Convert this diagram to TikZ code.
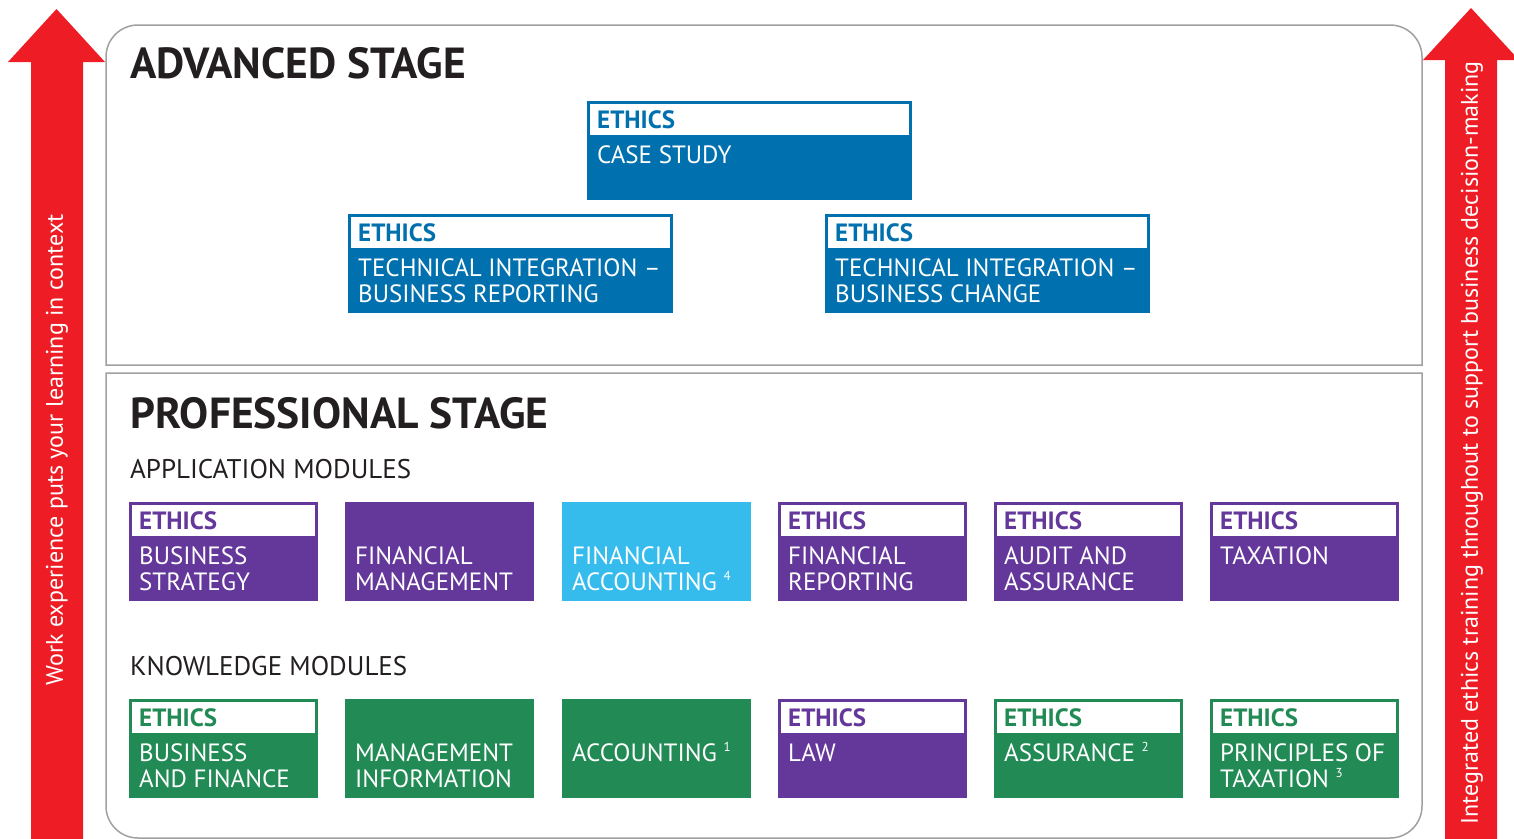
\documentclass[tikz,border=0pt]{standalone}
\usepackage{fontspec}
\setmainfont{PT Sans}
\usetikzlibrary{calc}
\definecolor{advblue}{HTML}{0070AE}
\definecolor{modpurple}{HTML}{64379A}
\definecolor{modcyan}{HTML}{35BCEC}
\definecolor{modgreen}{HTML}{218A55}
\definecolor{arrred}{HTML}{EE1D25}
\definecolor{panelgray}{HTML}{A0A0A0}
\definecolor{titleblack}{HTML}{231F20}
\newcommand\modbox[5]{%
  \node[modfill, fill=#5, minimum width=#4pt, anchor=north west] (#1) at (#2,#3) {};}
\newcommand\ethicshead[2]{%
  \fill[white] ($(#1.north west)+(3,3)$) rectangle ($(#1.north east)+(-3,34)$);
  \node[ethicstxt, text=#2] (#1-h) at ($(#1.north west)+(10,27)$) {ETHICS};}
\newcommand\lineone[2]{\node[bodytxt] (#1-a) at ($(#1.north west)+(10,62)$) {#2};}
\newcommand\linetwo[2]{\node[bodytxt] (#1-b) at ($(#1.north west)+(10,88)$) {#2};}
\newcommand\supn[1]{ \raisebox{10pt}{\fontsize{13}{13}\selectfont #1}}
\begin{document}
\begin{tikzpicture}[x=1pt,y=-1pt,
  modfill/.style={rectangle, draw=none, inner sep=0pt, outer sep=0pt, minimum height=99pt},
  ethicstxt/.style={anchor=base west, inner sep=0pt, font=\fontsize{25}{25}\selectfont\bfseries},
  bodytxt/.style={anchor=base west, inner sep=0pt, text=white, font=\fontsize{25}{25}\selectfont},
  bigtitle/.style={anchor=base west, inner sep=0pt, text=titleblack, font=\fontsize{43.5}{43.5}\selectfont\bfseries},
  subtitle/.style={anchor=base west, inner sep=0pt, text=titleblack, font=\fontsize{27}{27}\selectfont},
  sidetxt/.style={inner sep=0pt, text=white, rotate=90, font=\fontsize{24}{24}\selectfont},
  panel/.style={draw=panelgray, line width=1.5pt, fill=white}]
\useasboundingbox (0,0) rectangle (1514,838);
% arrows
\fill[arrred] (31,840) -- (31,62) -- (8,62) -- (56.5,9) -- (105,62) -- (83,62) -- (83,840) -- cycle;
\fill[arrred] (1445,840) -- (1445,60) -- (1423,60) -- (1471,8) -- (1519,60) -- (1497,60) -- (1497,840) -- cycle;
\node[sidetxt] (lefttxt) at (57,450) {Work experience puts your learning in context};
\node[sidetxt] (righttxt) at (1472,443) {Integrated ethics training throughout to support business decision-making};
% panels
\draw[panel] (106,365) -- (106,57) .. controls (106,39.3) and (120.3,25) .. (138,25) -- (1390,25) .. controls (1407.7,25) and (1422,39.3) .. (1422,57) -- (1422,365) -- cycle;
\draw[panel] (106,373) -- (1422,373) -- (1422,806) .. controls (1422,823.7) and (1407.7,838) .. (1390,838) -- (138,838) .. controls (120.3,838) and (106,823.7) .. (106,806) -- cycle;
\node[bigtitle] (advtitle) at (130,78) {ADVANCED STAGE};
\node[bigtitle] (protitle) at (130,428) {PROFESSIONAL STAGE};
\node[subtitle] (apptitle) at (130,478) {APPLICATION MODULES};
\node[subtitle] (kntitle) at (130,675) {KNOWLEDGE MODULES};
% advanced
\modbox{cs}{587}{101}{325}{advblue}\ethicshead{cs}{advblue}\lineone{cs}{CASE STUDY}
\modbox{br}{348}{214}{325}{advblue}\ethicshead{br}{advblue}\lineone{br}{TECHNICAL INTEGRATION –}\linetwo{br}{BUSINESS REPORTING}
\modbox{bc}{825}{214}{325}{advblue}\ethicshead{bc}{advblue}\lineone{bc}{TECHNICAL INTEGRATION –}\linetwo{bc}{BUSINESS CHANGE}
% application
\modbox{bs}{129}{502}{189}{modpurple}\ethicshead{bs}{modpurple}\lineone{bs}{BUSINESS}\linetwo{bs}{STRATEGY}
\modbox{fm}{345}{502}{189}{modpurple}\lineone{fm}{FINANCIAL}\linetwo{fm}{MANAGEMENT}
\modbox{fa}{562}{502}{189}{modcyan}\lineone{fa}{FINANCIAL}\linetwo{fa}{ACCOUNTING\supn{4}}
\modbox{fr}{778}{502}{189}{modpurple}\ethicshead{fr}{modpurple}\lineone{fr}{FINANCIAL}\linetwo{fr}{REPORTING}
\modbox{aa}{994}{502}{189}{modpurple}\ethicshead{aa}{modpurple}\lineone{aa}{AUDIT AND}\linetwo{aa}{ASSURANCE}
\modbox{tx}{1210}{502}{189}{modpurple}\ethicshead{tx}{modpurple}\lineone{tx}{TAXATION}
% knowledge
\modbox{bf}{129}{699}{189}{modgreen}\ethicshead{bf}{modgreen}\lineone{bf}{BUSINESS}\linetwo{bf}{AND FINANCE}
\modbox{mi}{345}{699}{189}{modgreen}\lineone{mi}{MANAGEMENT}\linetwo{mi}{INFORMATION}
\modbox{ac}{562}{699}{189}{modgreen}\lineone{ac}{ACCOUNTING\supn{1}}
\modbox{lw}{778}{699}{189}{modpurple}\ethicshead{lw}{modpurple}\lineone{lw}{LAW}
\modbox{as}{994}{699}{189}{modgreen}\ethicshead{as}{modgreen}\lineone{as}{ASSURANCE\supn{2}}
\modbox{pt}{1210}{699}{189}{modgreen}\ethicshead{pt}{modgreen}\lineone{pt}{PRINCIPLES OF}\linetwo{pt}{TAXATION\supn{3}}
\end{tikzpicture}
\end{document}
